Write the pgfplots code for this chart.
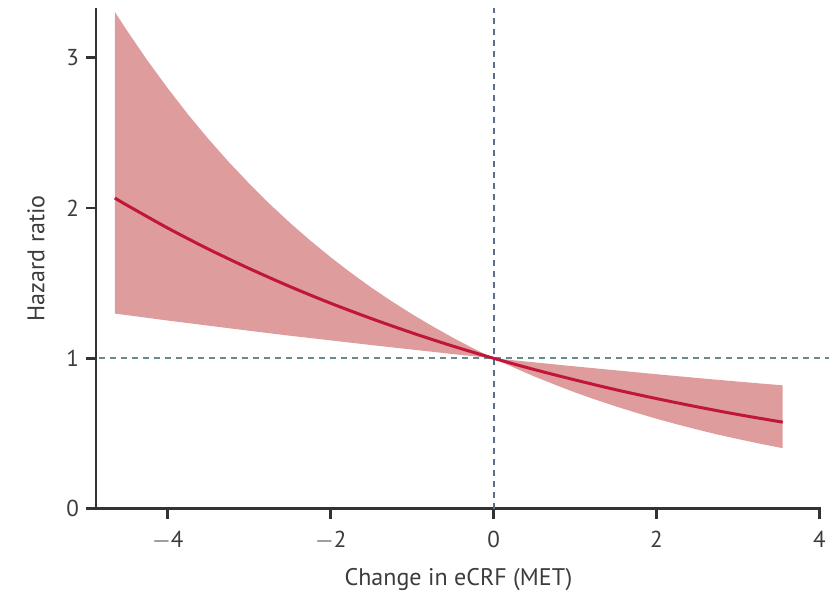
\documentclass[border=0pt]{standalone}
\usepackage{pgfplots}
\pgfplotsset{compat=1.18}
\usepackage{fontspec}
\setmainfont{PT Sans}

\definecolor{bandred}{RGB}{222,156,156}
\definecolor{linered}{RGB}{192,22,58}
\definecolor{hdash}{RGB}{100,140,140}
\definecolor{vdash}{RGB}{90,110,140}
\definecolor{txt}{RGB}{60,60,60}

\begin{document}
\begin{tikzpicture}
\begin{axis}[
    scale only axis,
    width=362pt, height=250pt,
    xmin=-4.88, xmax=4.02,
    ymin=0, ymax=3.33,
    axis lines*=left,
    axis line style={line width=1.3pt, color=black!80},
    xtick={-4,-2,0,2,4},
    ytick={0,1,2,3},
    xticklabels={$-$4,$-$2,0,2,4},
    tick style={line width=1.3pt, color=black!80},
    tick align=outside,
    major tick length=5pt,
    ticklabel style={font=\fontsize{11.5}{13}\selectfont, text=txt},
    xticklabel style={yshift=-2.5pt},
    /pgf/number format/assume math mode=true,
    xlabel={Change in eCRF (MET)},
    ylabel={Hazard ratio},
    label style={font=\fontsize{12}{14}\selectfont, text=txt},
    xlabel style={yshift=-3pt},
    ylabel style={yshift=4pt},
    clip=false,
]
% confidence band: upper edge left to right, then lower edge back
\addplot[fill=bandred, draw=none] coordinates {
    (-4.65,3.304) (-4.5,3.179) (-4.25,2.981) (-4,2.796) (-3.75,2.621) (-3.5,2.458)
    (-3.25,2.305) (-3,2.162) (-2.75,2.027) (-2.5,1.901) (-2.25,1.783) (-2,1.672)
    (-1.75,1.568) (-1.5,1.470) (-1.25,1.379) (-1,1.293) (-0.75,1.213) (-0.5,1.137)
    (-0.25,1.066) (0,1)
    (0.5,0.973) (1,0.946) (1.5,0.920) (2,0.894) (2.5,0.869) (3,0.845) (3.55,0.820)
    (3.55,0.402) (3.25,0.434) (3,0.463) (2.75,0.493) (2.5,0.526) (2.25,0.561)
    (2,0.598) (1.75,0.638) (1.5,0.680) (1.25,0.725) (1,0.773) (0.75,0.825)
    (0.5,0.879) (0.25,0.938)
    (0,1) (-0.5,1.028) (-1,1.058) (-1.5,1.088) (-2,1.119) (-2.5,1.150) (-3,1.183)
    (-3.5,1.217) (-4,1.251) (-4.5,1.287) (-4.65,1.297)
} -- cycle;

% reference lines
\addplot[hdash, line width=1pt, dash pattern=on 3pt off 2.5pt] coordinates {(-4.85,1) (4.12,1)};
\addplot[vdash, line width=1pt, dash pattern=on 3pt off 2.5pt] coordinates {(0,0) (0,3.33)};

% hazard ratio
\addplot[linered, line width=1.5pt, smooth] coordinates {
    (-4.65,2.066) (-4.5,2.018) (-4,1.866) (-3.5,1.726) (-3,1.597) (-2.5,1.477)
    (-2,1.366) (-1.5,1.264) (-1,1.169) (-0.5,1.081) (0,1) (0.5,0.925) (1,0.856)
    (1.5,0.791) (2,0.732) (2.5,0.677) (3,0.626) (3.55,0.575)
};
\end{axis}
\useasboundingbox ([shift={(-48pt,-41pt)}]current axis.south west)
    rectangle ([shift={(9pt,4pt)}]current axis.north east);
\end{tikzpicture}
\end{document}
